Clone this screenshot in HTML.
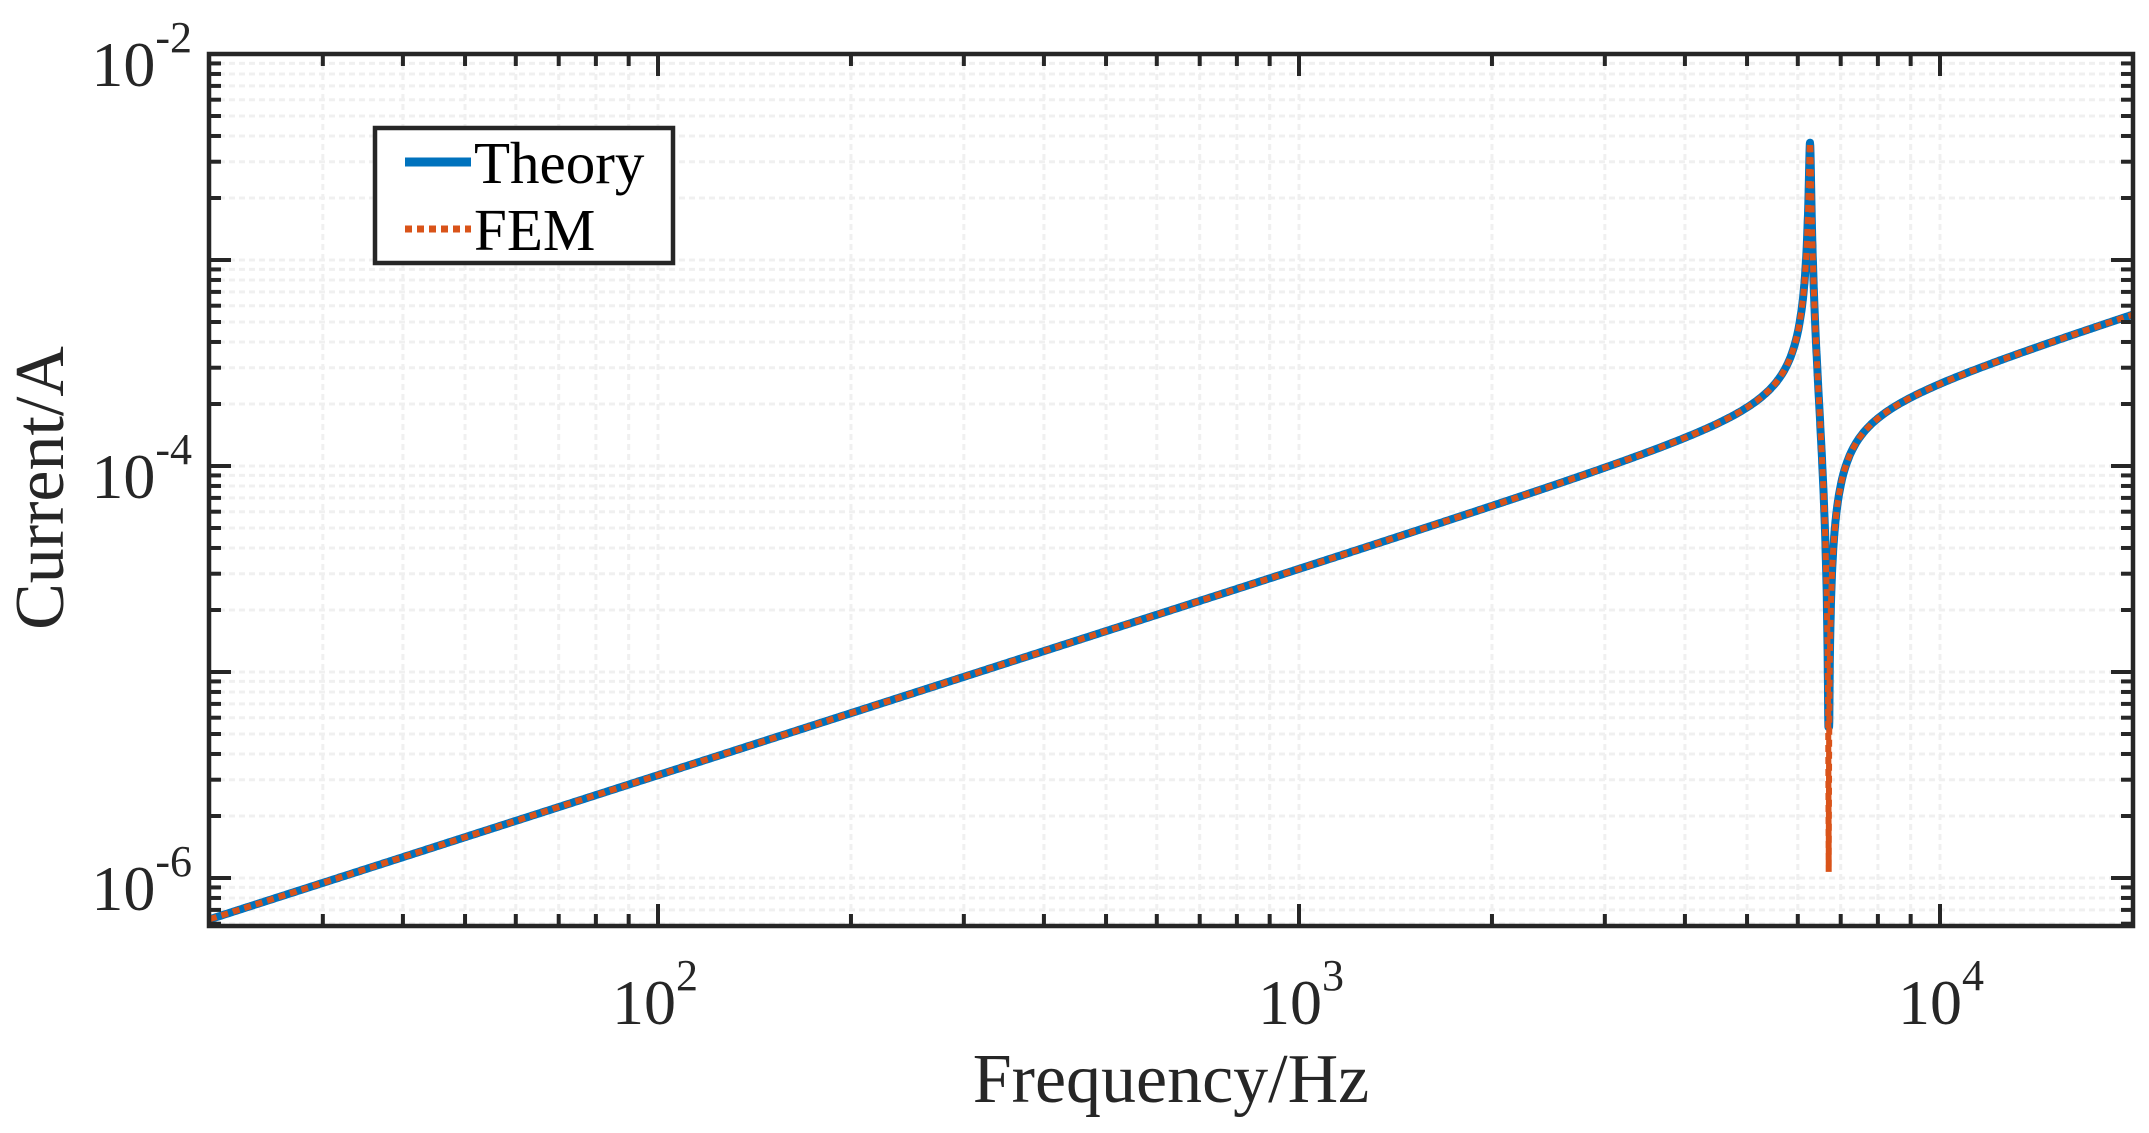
<!DOCTYPE html>
<html><head><meta charset="utf-8"><style>
html,body{margin:0;padding:0;background:#fff;}
svg{display:block;}
text{font-family:"Liberation Serif","Times New Roman",serif;fill:#262626;}
</style></head><body>
<svg id="s" width="2149" height="1133" xmlns="http://www.w3.org/2000/svg">
<rect width="2149" height="1133" fill="#fff"/>
<g id="grid"></g>
<g id="curves"></g>
<g id="axes"></g>
<g id="labels"></g>
<text x="1171" y="1102" font-size="70" text-anchor="middle">Frequency/Hz</text>
<text transform="translate(63,488) rotate(-90)" font-size="70" text-anchor="middle">Current/A</text>
<g>
<rect x="375" y="128" width="298" height="135" fill="#fff" stroke="#262626" stroke-width="4.5"/>
<line x1="405" y1="162" x2="471" y2="162" stroke="#0072bd" stroke-width="9"/>
<line x1="405" y1="229" x2="471" y2="229" stroke="#d95319" stroke-width="7" stroke-dasharray="7,5"/>
<text x="474" y="183" font-size="59" style="fill:#000">Theory</text>
<text x="474" y="250" font-size="59" style="fill:#000">FEM</text>
</g>
</svg>
<script>
const L=209,R=2133,T=54,B=926;
const x0=1299,Dx=641,y4=466,Dy=206;
function X(f){return x0+(Math.log10(f)-3)*Dx;}
function Y(v){return y4-(Math.log10(v)+4)*Dy;}
const NS="http://www.w3.org/2000/svg";
function el(p,tag,attrs,txt){const e=document.createElementNS(NS,tag);for(const k in attrs)e.setAttribute(k,attrs[k]);if(txt!==undefined)e.textContent=txt;document.getElementById(p).appendChild(e);return e;}
let xs=[];for(let d=1;d<=4;d++)for(let m=1;m<10;m++){const f=m*Math.pow(10,d);const x=X(f);if(x>L+1&&x<R-1)xs.push([x,m==1]);}
let ys=[];for(let d=-7;d<=-2;d++)for(let m=1;m<10;m++){const v=m*Math.pow(10,d);const y=Y(v);if(y>T-0.5&&y<B-1)ys.push([y,m==1]);}
for(const [x,mj] of xs){el('grid','line',{x1:x,y1:T,x2:x,y2:B,stroke:'#f0f0f0','stroke-width':3,'stroke-dasharray':'6,4'});
 const len=mj?22:12;el('axes','line',{x1:x,y1:B,x2:x,y2:B-len,stroke:'#262626','stroke-width':4});el('axes','line',{x1:x,y1:T,x2:x,y2:T+len,stroke:'#262626','stroke-width':4});}
for(const [y,mj] of ys){if(y>T+1)el('grid','line',{x1:L,y1:y,x2:R,y2:y,stroke:'#f0f0f0','stroke-width':3,'stroke-dasharray':'6,4'});
 const len=mj?22:12;el('axes','line',{x1:L,y1:y,x2:L+len,y2:y,stroke:'#262626','stroke-width':4});el('axes','line',{x1:R,y1:y,x2:R-len,y2:y,stroke:'#262626','stroke-width':4});}
el('axes','rect',{x:L,y:T,width:R-L,height:B-T,fill:'none',stroke:'#262626','stroke-width':4.5});
function lab(x,y,e){const t=el('labels','text',{x:x,y:y,'font-size':64,'text-anchor':'start'});t.textContent='10';const s=document.createElementNS(NS,'tspan');s.setAttribute('font-size',44);s.setAttribute('dy',-34);s.textContent=e;t.appendChild(s);}
lab(612,1024,'2');lab(1258,1024,'3');lab(1898,1024,'4');
function ylab(y,e){const t=el('labels','text',{x:192,y:y+32,'font-size':64,'text-anchor':'end'});t.textContent='10';const s=document.createElementNS(NS,'tspan');s.setAttribute('font-size',44);s.setAttribute('dy',-34);s.textContent=e;t.appendChild(s);}
ylab(Y(1e-2),'-2');ylab(Y(1e-4),'-4');ylab(Y(1e-6),'-6');
const K=2.76e-8,fr=6270,fa=6705,g=42;
function I(f){const nr=fa*fa-f*f,dr=fr*fr-f*f,di=f*g;return K*f*Math.sqrt((nr*nr)/(dr*dr+di*di));}
function path(N,floor){let pts=[];const a=Math.log10(20),b=Math.log10(20000);
 let fs=[];for(let i=0;i<=N;i++)fs.push(Math.pow(10,a+(b-a)*i/N));
 for(let i=0;i<80;i++){fs.push(fr*(0.97+0.06*i/80));fs.push(fa*(0.96+0.08*i/80));}
 fs.push(fa);fs.sort((p,q)=>p-q);
 for(const f of fs){let v=I(f);if(Math.abs(f-fa)<300&&v<floor)v=floor;pts.push(X(f).toFixed(1)+','+Y(v).toFixed(1));}
 return 'M'+pts.join('L');}
el('curves','path',{d:path(1500,5.4e-6),fill:'none',stroke:'#0072bd','stroke-width':8,'stroke-linejoin':'round'});
el('curves','path',{d:path(1500,1.07e-6),fill:'none',stroke:'#d95319','stroke-width':6,'stroke-dasharray':'7,5'});
</script>
</body></html>
